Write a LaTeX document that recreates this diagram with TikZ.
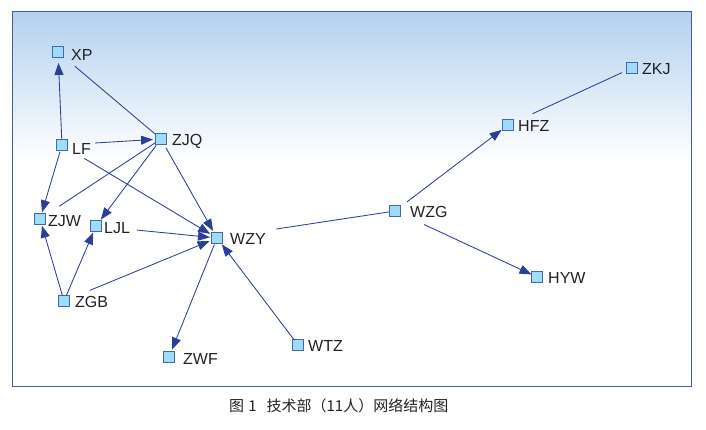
\documentclass[tikz,border=0pt]{standalone}
\usepackage{fontspec}
\setmainfont{Liberation Sans}
\newfontfamily\cjk{Noto Sans CJK SC}
\usetikzlibrary{arrows.meta}
\definecolor{edgeblue}{HTML}{2B3F98}
\definecolor{sqfill}{HTML}{9FDCF8}
\definecolor{sqdraw}{HTML}{3F6AB0}
\definecolor{frameblue}{HTML}{4A5AA0}
\definecolor{topblue}{HTML}{B3D0EF}
\definecolor{txt}{HTML}{222222}
\tikzset{
  actor/.style={rectangle, draw=sqdraw, fill=sqfill, line width=0.9pt, minimum size=11.5pt, inner sep=0pt},
  lbl/.style={anchor=west, inner sep=0pt, text=txt, font=\fontsize{16}{16}\selectfont, text height=11.5pt, text depth=0pt},
  tie/.style={draw=edgeblue, line width=0.85pt},
  arc/.style={tie, -{Triangle[length=12pt,width=9pt]}},
}
\begin{document}
\begin{tikzpicture}[x=1pt,y=-1pt]
\useasboundingbox (0,0) rectangle (706,429);
% background
\fill[top color=topblue, bottom color=white] (12,11) rectangle (691,160);
\fill[white] (12,160) rectangle (691,386);
\draw[frameblue, line width=0.9pt] (12,11) rectangle (691,386);
% nodes
\node[actor] (XP)  at (58,52) {};
\node[actor] (LF)  at (62,145) {};
\node[actor] (ZJQ) at (161,139) {};
\node[actor] (ZJW) at (40,219) {};
\node[actor] (LJL) at (96,226) {};
\node[actor] (WZY) at (217,238) {};
\node[actor] (ZGB) at (64,301) {};
\node[actor] (ZWF) at (169,357) {};
\node[actor] (WTZ) at (298,345) {};
\node[actor] (WZG) at (395,211) {};
\node[actor] (HFZ) at (508,125) {};
\node[actor] (ZKJ) at (632,68) {};
\node[actor] (HYW) at (537,277) {};
% labels
\node[lbl] (lXP)  at (71,54.5) {XP};
\node[lbl] (lLF)  at (72,148.5) {LF};
\node[lbl] (lZJQ) at (172,139.5) {ZJQ};
\node[lbl] (lZJW) at (48,220.5) {ZJW};
\node[lbl] (lLJL) at (104,227.5) {LJL};
\node[lbl] (lWZY) at (230,239) {WZY};
\node[lbl] (lZGB) at (75,301.5) {ZGB};
\node[lbl] (lZWF) at (183,359) {ZWF};
\node[lbl] (lWTZ) at (308,346) {WTZ};
\node[lbl] (lWZG) at (410,212) {WZG};
\node[lbl] (lHFZ) at (518,126) {HFZ};
\node[lbl] (lZKJ) at (642,68.5) {ZKJ};
\node[lbl] (lHYW) at (548,277.5) {HYW};
% ties
\draw[arc, shorten <=6pt, shorten >=11pt] (LF.center) -- (XP.center);
\draw[arc, shorten <=33pt, shorten >=8pt] (LF.center) -- (ZJQ.center);
\draw[arc, shorten <=7pt, shorten >=7pt] (LF.center) -- (ZJW.center);
\draw[arc, shorten <=26pt, shorten >=8pt] (LF.center) -- (WZY.center);
\draw[tie, shorten <=22pt, shorten >=8pt] (XP.center) -- (ZJQ.center);
\draw[tie, shorten <=7pt, shorten >=23pt] (ZJQ.center) -- (ZJW.center);
\draw[arc, shorten <=8pt, shorten >=8pt] (ZJQ.center) -- (LJL.center);
\draw[arc, shorten <=10pt, shorten >=8pt] (ZJQ.center) -- (WZY.center);
\draw[arc, shorten <=41pt, shorten >=7pt] (LJL.center) -- (WZY.center);
\draw[arc, shorten <=6pt, shorten >=7pt] (ZGB.center) -- (ZJW.center);
\draw[arc, shorten <=6pt, shorten >=7pt] (ZGB.center) -- (LJL.center);
\draw[arc, shorten <=28pt, shorten >=8pt] (ZGB.center) -- (WZY.center);
\draw[arc, shorten <=7pt, shorten >=8pt] (WZY.center) -- (ZWF.center);
\draw[arc, shorten <=6pt, shorten >=8pt] (WTZ.center) -- (WZY.center);
\draw[tie, shorten <=60pt, shorten >=6pt] (WZY.center) -- (WZG.center);
\draw[arc, shorten <=15pt, shorten >=8pt] (WZG.center) -- (HFZ.center);
\draw[arc, shorten <=32pt, shorten >=6pt] (WZG.center) -- (HYW.center);
\draw[tie, shorten <=27pt, shorten >=11pt] (HFZ.center) -- (ZKJ.center);
% caption
\node[anchor=west, inner sep=0pt, text=txt, font=\cjk\fontsize{15}{15}\selectfont] (cap) at (229,405.5) {图\hspace{0.27em}1\hspace{0.67em}技术部（11人）网络结构图};
\end{tikzpicture}
\end{document}
